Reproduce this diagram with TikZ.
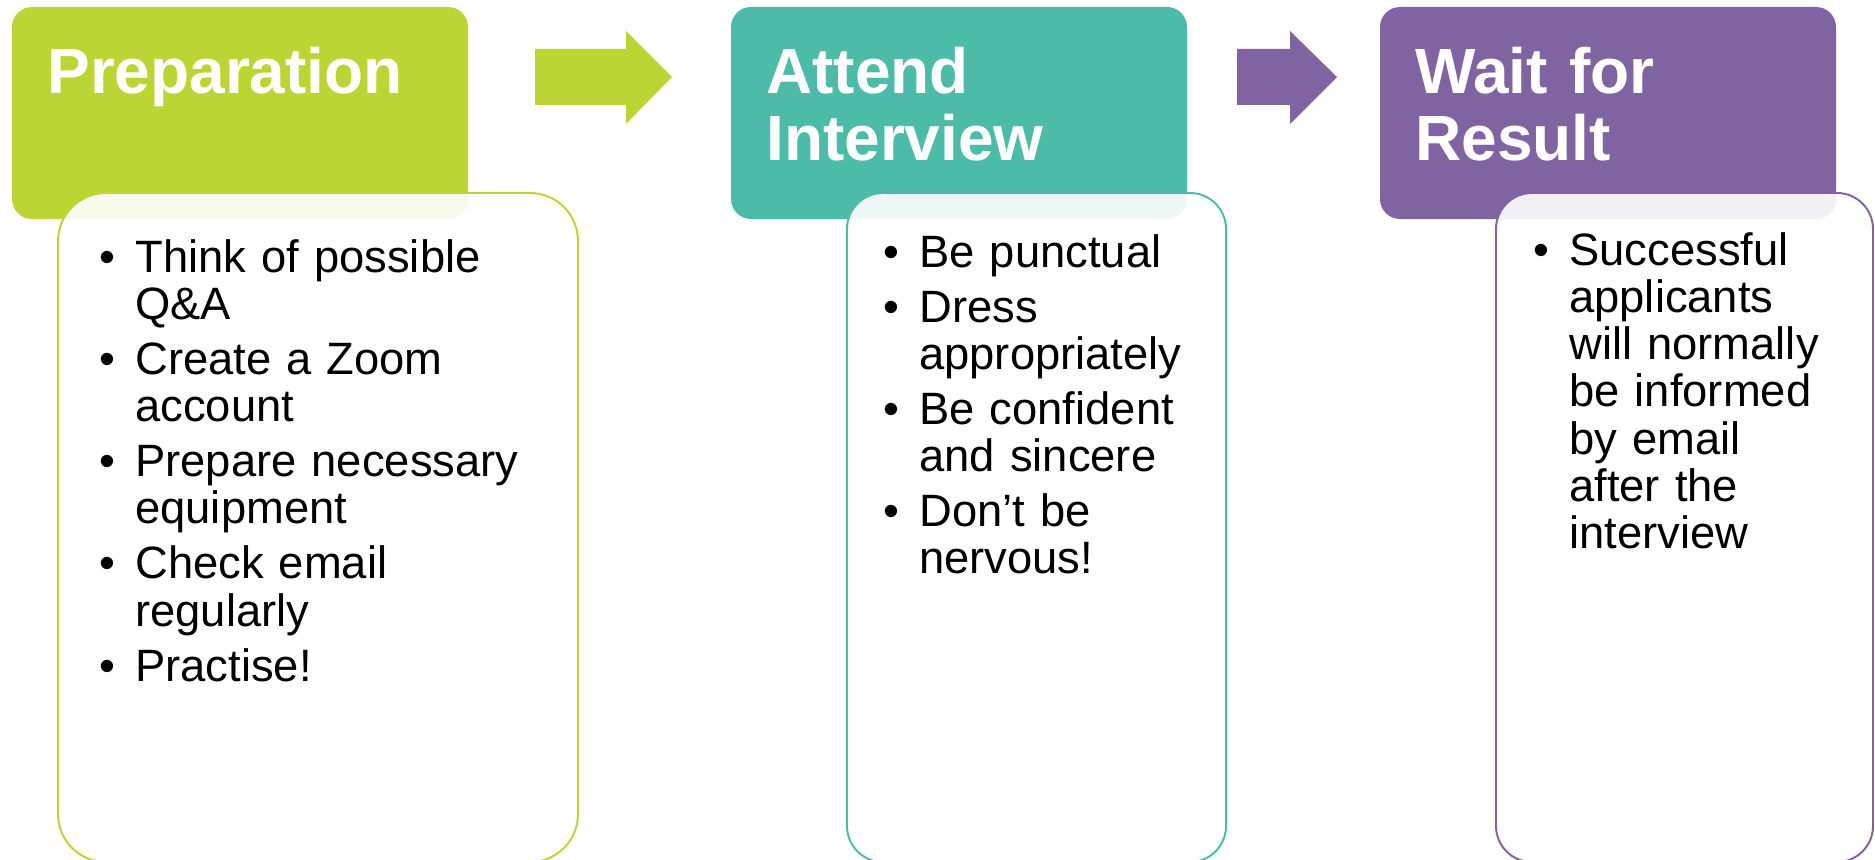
\documentclass[tikz,border=0pt]{standalone}
\usepackage{fontspec}
\setmainfont{Liberation Sans}
\usetikzlibrary{positioning,calc}

\definecolor{stagelime}{RGB}{187,214,52}
\definecolor{stageteal}{RGB}{76,187,168}
\definecolor{stageplum}{RGB}{128,100,162}

\newcommand{\bul}{\noindent\llap{\textbullet\hspace{4mm}}}
\newcommand{\itemgap}{\par\vspace{1.55mm}}

\tikzset{
  headbox/.style={rectangle,rounded corners=4mm,inner sep=0pt,outer sep=0pt,
    anchor=north west,minimum width=91.2mm,minimum height=42.4mm},
  listbox/.style={rectangle,draw=#1,fill=white,fill opacity=0.9,line width=1.1pt,
    rounded corners=7.2mm,inner sep=0pt,outer sep=0pt,anchor=north west,minimum height=133.8mm},
  headtext/.style={text=white,font=\fontsize{36.4}{37.6}\selectfont\bfseries,
    text width=85mm,align=left,inner sep=0pt,anchor=base west},
  listtext/.style={text=black,font=\fontsize{25.8}{26.9}\selectfont,
    text width=90mm,align=left,inner sep=0pt,anchor=base west},
}

\begin{document}
\begin{tikzpicture}[x=0.2mm,y=-0.2mm]
\useasboundingbox (0,0) rectangle (1875,860);
\clip (0,0) rectangle (1875,860);
\fill[white] (0,0) rectangle (1875,860);

% stage headers
\node[headbox,fill=stagelime] (prepbox) at (12,7) {};
\node[headbox,fill=stageteal] (attendbox) at (731,7) {};
\node[headbox,fill=stageplum] (waitbox) at (1380,7) {};

% detail boxes, laid over the headers
\node[listbox=stagelime,minimum width=104mm,rounded corners=9.6mm] (preplist) at (58,193) {};
\node[listbox=stageteal,minimum width=75.8mm] (attendlist) at (847,193) {};
\node[listbox=stageplum,minimum width=75.4mm] (waitlist) at (1496,193) {};

% block arrows between the stages
\fill[stagelime] (535,49) -- (626,49) -- (626,31) -- (672,77) -- (626,124) -- (626,105) -- (535,105) -- cycle;
\fill[stageplum] (1237,49) -- (1290,49) -- (1290,31) -- (1337,77) -- (1290,124) -- (1290,105) -- (1237,105) -- cycle;

\node[headtext] (preptitle) at ([shift={(35,87)}]prepbox.north west) {Preparation};
\node[headtext] (attendtitle) at ([shift={(35,87)}]attendbox.north west) {Attend\\Interview};
\node[headtext] (waittitle) at ([shift={(35,87)}]waitbox.north west) {Wait for\\Result};

\node[listtext] (preptext) at (135,272) {\bul Think of possible\\Q\&A\itemgap
\bul Create a Zoom\\account\itemgap
\bul Prepare necessary\\equipment\itemgap
\bul Check email\\regularly\itemgap
\bul Practise!};
\node[listtext] (attendtext) at (919,267) {\bul Be punctual\itemgap
\bul Dress\\appropriately\itemgap
\bul Be confident\\and sincere\itemgap
\bul Don’t be\\nervous!};
\node[listtext] (waittext) at (1569,265) {\bul Successful\\applicants\\will normally\\be informed\\by email\\after the\\interview};
\end{tikzpicture}
\end{document}
